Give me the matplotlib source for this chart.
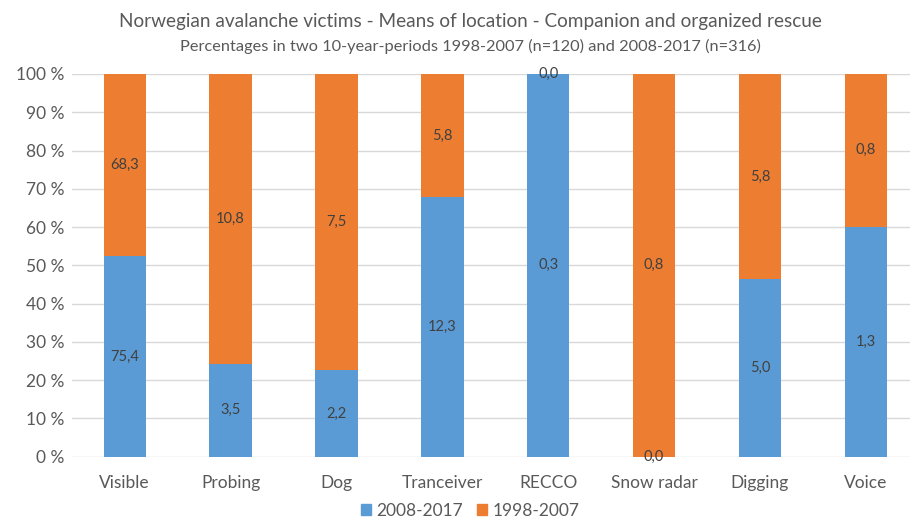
import numpy as np
import matplotlib
matplotlib.use("Agg")
import matplotlib.pyplot as plt
from matplotlib.patches import Patch

plt.rcParams['font.family'] = ['Lato', 'DejaVu Sans']

categories = ['Visible', 'Probing', 'Dog', 'Tranceiver', 'RECCO', 'Snow radar', 'Digging', 'Voice']
# share of each bar (percent of bar height) as drawn
share_new = [52.4, 24.3, 22.6, 67.9, 100.0, 0.0, 46.4, 60.1]
share_old = [100 - v for v in share_new]
# printed labels (percent of victims in each period)
labels_new = ['75,4', '3,5', '2,2', '12,3', '0,3', '0,0', '5,0', '1,3']
labels_old = ['68,3', '10,8', '7,5', '5,8', '0,0', '0,8', '5,8', '0,8']
series_names = ['2008-2017', '1998-2007']

blue = '#5B9BD5'
orange = '#ED7D31'
grey = '#595959'

fig = plt.figure(figsize=(9.1, 5.19), dpi=100)
ax = fig.add_axes([71.8 / 910, 1 - 456.7 / 519, 847 / 910, 382.7 / 519])

x = np.arange(len(categories))
ax.bar(x, share_new, width=0.4, color=blue, zorder=2)
ax.bar(x, share_old, width=0.4, bottom=share_new, color=orange, zorder=2)

for i in range(len(categories)):
    ax.text(x[i], share_new[i] / 2, labels_new[i], ha='center', va='center',
            fontsize=10.5, color='#404040', zorder=3)
    ax.text(x[i], share_new[i] + share_old[i] / 2, labels_old[i], ha='center', va='center',
            fontsize=10.5, color='#404040', zorder=3)

ax.set_xlim(-0.5, len(categories) - 0.5)
ax.set_ylim(0, 100)
ax.set_yticks(np.arange(0, 101, 10))
ax.set_yticklabels(['%d %%' % v for v in range(0, 101, 10)])
ax.set_xticks(x)
ax.set_xticklabels(categories)
ax.tick_params(axis='both', length=0, labelsize=12.5, colors=grey)
ax.tick_params(axis='x', pad=13)
ax.tick_params(axis='y', pad=5)
ax.yaxis.grid(True, color='#D9D9D9', linewidth=1, zorder=0)
for s in ax.spines.values():
    s.set_visible(False)

fig.text(470 / 910, 1 - 22 / 519, 'Norwegian avalanche victims - Means of location - Companion and organized rescue',
         ha='center', va='center', fontsize=13.7, color=grey)
fig.text(470 / 910, 1 - 46 / 519, 'Percentages in two 10-year-periods 1998-2007 (n=120) and 2008-2017 (n=316)',
         ha='center', va='center', fontsize=11.8, color=grey)

handles = [Patch(color=blue), Patch(color=orange)]
fig.legend(handles, series_names, loc='center', bbox_to_anchor=(470 / 910, 1 - 511 / 519),
           ncol=2, frameon=False, fontsize=12.5, labelcolor=grey,
           handlelength=0.6, handleheight=0.6, handletextpad=0.3, columnspacing=0.8)

fig.savefig('out.png', dpi=100)
